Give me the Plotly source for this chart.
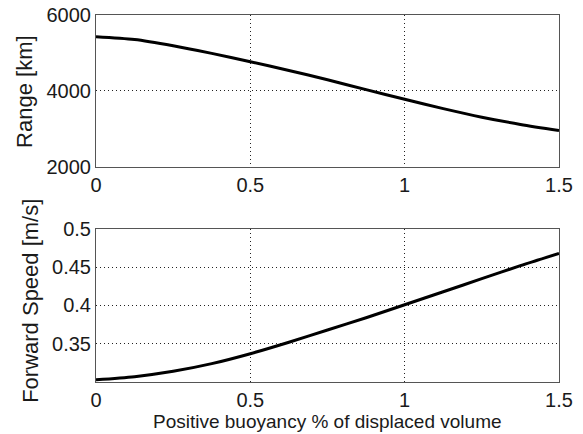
import plotly.graph_objects as go

# Data
buoyancy = [0, 0.125, 0.25, 0.375, 0.5, 0.625, 0.75, 0.875, 1.0, 1.125, 1.25, 1.375, 1.5]
range_km = [5430, 5355, 5190, 4990, 4770, 4540, 4295, 4035, 3780, 3535, 3310, 3120, 2960]
speed_ms = [0.303, 0.307, 0.314, 0.324, 0.337, 0.352, 0.368, 0.384, 0.401, 0.418, 0.435, 0.452, 0.468]

x_ticks = [0, 0.5, 1, 1.5]
x_ticklabels = ["0", "0.5", "1", "1.5"]
range_ticks = [2000, 4000, 6000]
speed_ticks = [0.35, 0.4, 0.45, 0.5]
speed_ticklabels = ["0.35", "0.4", "0.45", "0.5"]

x_title = "Positive buoyancy % of displaced volume"
y1_title = "Range [km]"
y2_title = "Forward Speed [m/s]"

FONT = "Liberation Sans, Arial, Helvetica, sans-serif"
TXT = "#1a1a1a"

fig = go.Figure()
fig.add_trace(go.Scatter(x=buoyancy, y=range_km, mode="lines",
                         line=dict(color="black", width=3, shape="spline", smoothing=0.8),
                         xaxis="x", yaxis="y", showlegend=False, hoverinfo="skip"))
fig.add_trace(go.Scatter(x=buoyancy, y=speed_ms, mode="lines",
                         line=dict(color="black", width=3, shape="spline", smoothing=0.8),
                         xaxis="x2", yaxis="y2", showlegend=False, hoverinfo="skip"))

axis_common = dict(showline=True, mirror=True, linecolor="#555555", linewidth=1,
                   showgrid=True, gridcolor="#222222", griddash="1px,3px", gridwidth=1,
                   zeroline=False, ticks="", automargin=False, ticklabeloverflow="allow",
                   tickfont=dict(family=FONT, size=20, color=TXT))

fig.update_layout(
    width=583, height=434,
    margin=dict(l=96, r=24, t=15, b=52),
    paper_bgcolor="white", plot_bgcolor="white",
    font=dict(family=FONT, color=TXT),
    xaxis=dict(domain=[0, 1], anchor="y", range=[0, 1.5], tickvals=x_ticks, ticktext=x_ticklabels, **axis_common),
    yaxis=dict(domain=[0.586, 1], anchor="x", range=[2000, 6000], tickvals=range_ticks, **axis_common),
    xaxis2=dict(domain=[0, 1], anchor="y2", range=[0, 1.5], tickvals=x_ticks, ticktext=x_ticklabels, **axis_common),
    yaxis2=dict(domain=[0, 0.417], anchor="x2", range=[0.3, 0.5], tickvals=speed_ticks, ticktext=speed_ticklabels,
                **axis_common),
    annotations=[
        dict(text=x_title, xref="paper", yref="paper", x=0.5, y=-0.108, xanchor="center", yanchor="middle",
             showarrow=False, font=dict(family=FONT, size=19, color=TXT)),
        dict(text=y1_title, xref="paper", yref="paper", x=-0.1535, y=0.793, xanchor="center", yanchor="middle",
             textangle=-90, showarrow=False, font=dict(family=FONT, size=22, color=TXT)),
        dict(text=y2_title, xref="paper", yref="paper", x=-0.1405, y=0.221, xanchor="center", yanchor="middle",
             textangle=-90, showarrow=False, font=dict(family=FONT, size=22, color=TXT)),
    ],
)

fig.write_html("out.html", config={"displayModeBar": False},
               post_script="document.body.style.margin='0px';")
